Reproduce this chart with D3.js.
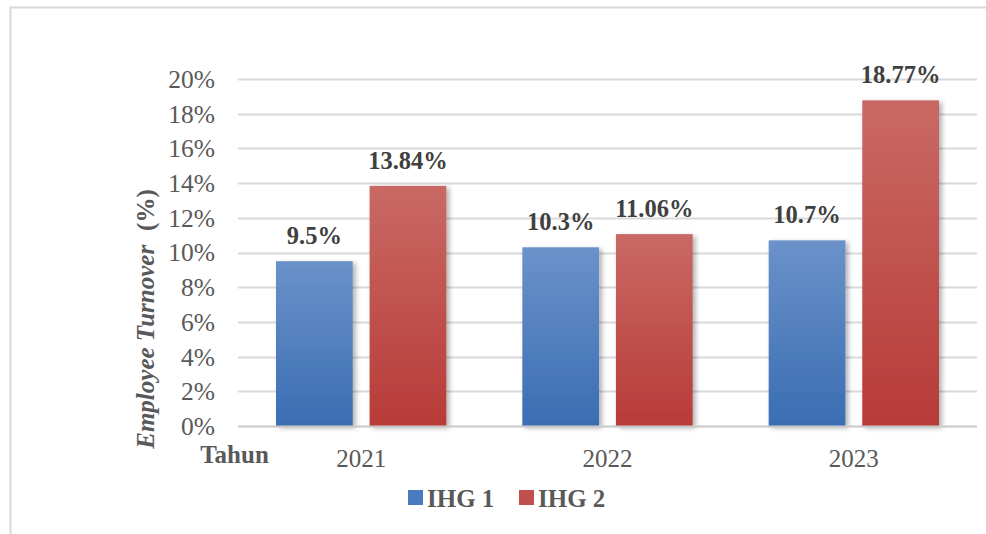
<!DOCTYPE html>
<html>
<head>
<meta charset="utf-8">
<script src="https://cdn.jsdelivr.net/npm/d3@7"></script>
<style>
  html, body { margin: 0; padding: 0; background: #fff; }
</style>
</head>
<body>
<div id="chart"></div>
<script>
const years = ['2021', '2022', '2023'];
const seriesNames = ['IHG 1', 'IHG 2'];
const ihg1 = [9.5, 10.3, 10.7];
const ihg2 = [13.84, 11.06, 18.77];
const labels1 = ['9.5%', '10.3%', '10.7%'];
const labels2 = ['13.84%', '11.06%', '18.77%'];
const yTicks = [0, 2, 4, 6, 8, 10, 12, 14, 16, 18, 20];

const FONT = 'Liberation Serif';
const width = 986, height = 534;
const margin = { left: 238, right: 9, top: 79, bottom: 108 };

const svg = d3.select('#chart').append('svg')
  .attr('width', width)
  .attr('height', height)
  .style('display', 'block')
  .style('font-family', FONT);

const defs = svg.append('defs');
const colors = [
  { id: 'g1', top: '#6b92c9', bottom: '#3a6db3', legend: '#4a7bbf' },
  { id: 'g2', top: '#c96965', bottom: '#b83b38', legend: '#c0504d' }
];
colors.forEach(c => {
  const g = defs.append('linearGradient').attr('id', c.id)
    .attr('x1', 0).attr('y1', 0).attr('x2', 0).attr('y2', 1);
  g.append('stop').attr('offset', '0%').attr('stop-color', c.top);
  g.append('stop').attr('offset', '100%').attr('stop-color', c.bottom);
});
const shadow = defs.append('filter').attr('id', 'shadow')
  .attr('x', '-20%').attr('y', '-10%').attr('width', '150%').attr('height', '130%');
shadow.append('feDropShadow').attr('dx', 3).attr('dy', 2).attr('stdDeviation', 2.5)
  .attr('flood-color', '#000').attr('flood-opacity', 0.3);

// outer frame (runs off the right/bottom of the picture)
svg.append('rect')
  .attr('x', 10.5).attr('y', 7.5)
  .attr('width', 990).attr('height', 540)
  .attr('fill', 'none').attr('stroke', '#d9d9d9').attr('stroke-width', 2);

const x = d3.scaleBand()
  .domain(years)
  .range([margin.left, width - margin.right]);

const y = d3.scaleLinear()
  .domain([0, 20])
  .range([height - margin.bottom, margin.top]);

const inner = d3.scaleBand()
  .domain(seriesNames)
  .range([38, x.bandwidth() - 38])
  .paddingInner(0.18);

// gridlines
svg.append('g')
  .selectAll('line')
  .data(yTicks.slice(1))
  .join('line')
  .attr('x1', margin.left).attr('x2', width - margin.right)
  .attr('y1', d => Math.round(y(d)) + 0.5).attr('y2', d => Math.round(y(d)) + 0.5)
  .attr('stroke', '#d9d9d9').attr('stroke-width', 2);

// y axis labels
const yAxis = d3.axisLeft(y).tickValues(yTicks).tickFormat(d => d + '%').tickSize(0).tickPadding(0);
const yg = svg.append('g').attr('transform', `translate(${215},0)`).call(yAxis);
yg.select('.domain').remove();
yg.selectAll('text')
  .style('font-family', FONT)
  .attr('font-size', 25.5)
  .attr('fill', '#595959')
  .attr('dy', '0.33em');

// bars
const groups = [
  { name: seriesNames[0], values: ihg1, labels: labels1, fill: 'url(#g1)' },
  { name: seriesNames[1], values: ihg2, labels: labels2, fill: 'url(#g2)' }
];

groups.forEach(s => {
  svg.append('g')
    .selectAll('rect')
    .data(years)
    .join('rect')
    .attr('x', (d) => x(d) + inner(s.name))
    .attr('y', (d, i) => y(s.values[i]))
    .attr('width', inner.bandwidth())
    .attr('height', (d, i) => y(0) - y(s.values[i]))
    .attr('fill', s.fill)
    .attr('filter', 'url(#shadow)');
});

// baseline
svg.append('line')
  .attr('x1', margin.left).attr('x2', width - margin.right)
  .attr('y1', y(0) + 0.5).attr('y2', y(0) + 0.5)
  .attr('stroke', '#c8c8c8').attr('stroke-width', 2);

// data labels
groups.forEach(s => {
  svg.append('g')
    .selectAll('text')
    .data(years)
    .join('text')
    .attr('x', (d) => x(d) + inner(s.name) + inner.bandwidth() / 2)
    .attr('y', (d, i) => y(s.values[i]) - 17)
    .attr('text-anchor', 'middle')
    .style('font-family', FONT)
    .attr('font-size', 24.5)
    .attr('font-weight', 'bold')
    .attr('fill', '#404040')
    .text((d, i) => s.labels[i]);
});

// x axis labels
const xAxis = d3.axisBottom(x).tickSize(0).tickPadding(0);
const xg = svg.append('g').attr('transform', `translate(0,${y(0)})`).call(xAxis);
xg.select('.domain').remove();
xg.selectAll('text')
  .style('font-family', FONT)
  .attr('font-size', 25)
  .attr('fill', '#595959')
  .attr('dy', '1.64em');

svg.append('text')
  .attr('x', 234.5).attr('y', 463)
  .attr('text-anchor', 'middle')
  .style('font-family', FONT)
  .attr('font-size', 25)
  .attr('font-weight', 'bold')
  .attr('fill', '#595959')
  .text('Tahun');

// y axis title
const yt = svg.append('text')
  .attr('transform', 'translate(154,319) rotate(-90)')
  .attr('text-anchor', 'middle')
  .style('font-family', FONT)
  .attr('font-size', 25)
  .attr('font-weight', 'bold')
  .attr('fill', '#595959');
yt.append('tspan').attr('font-style', 'italic').text('Employee Turnover');
yt.append('tspan').attr('dx', 14).text('(%)');

// legend
const legendX = [408, 519];
const legend = svg.append('g');
groups.forEach((s, i) => {
  legend.append('rect')
    .attr('x', legendX[i]).attr('y', 490)
    .attr('width', 15).attr('height', 15)
    .attr('fill', colors[i].legend);
  legend.append('text')
    .attr('x', legendX[i] + 19).attr('y', 507)
    .style('font-family', FONT)
    .attr('font-size', 25)
    .attr('font-weight', 'bold')
    .attr('fill', '#595959')
    .text(s.name);
});
</script>
</body>
</html>
